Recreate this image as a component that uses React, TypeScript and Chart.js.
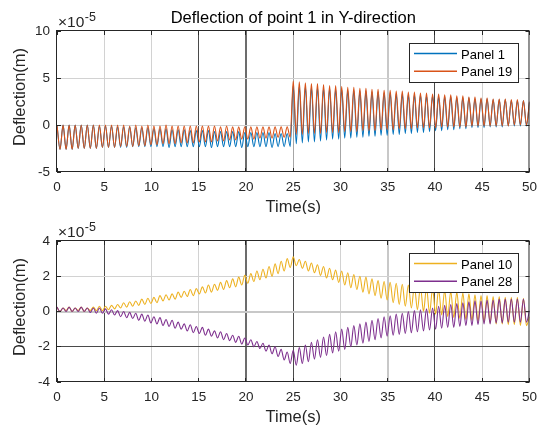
import React, { useEffect, useRef } from 'react';
import { Chart, registerables } from 'chart.js';

Chart.register(...registerables);

// ---------------- data (values in units of 1e-5 m) ----------------
const TIME_END = 50; // s
const CYCLES = 78; // oscillation cycles over the record
const X_TICKS = [0, 5, 10, 15, 20, 25, 30, 35, 40, 45, 50];
const TOP_Y_TICKS = [-5, 0, 5, 10];
const BOTTOM_Y_TICKS = [-4, -2, 0, 2, 4];

const TOP_TITLE = 'Deflection of point 1 in Y-direction';
const Y_LABEL = 'Deflection(m)';
const X_LABEL = 'Time(s)';
const TOP_LEGEND = ['Panel 1', 'Panel 19'];
const BOTTOM_LEGEND = ['Panel 10', 'Panel 28'];

// per-cycle maxima (last entry = value at t = 50 s) and minima
const PANEL1_PEAKS = [
  0.0, 0.0, 0.0, 0.0, 0.0, 0.0, 0.0, -0.1,
  -0.1, -0.1, -0.2, -0.2, -0.2, -0.3, -0.3, -0.3,
  -0.4, -0.4, -0.4, -0.5, -0.5, -0.5, -0.6, -0.6,
  -0.6, -0.6, -0.7, -0.7, -0.7, -0.7, -0.7, -0.8,
  -0.8, -0.8, -0.8, -0.8, -0.9, -0.9, -0.9,
  4.2, 4.1, 4.1, 4.0, 4.0, 3.9, 3.9, 3.8,
  3.8, 3.7, 3.7, 3.6, 3.6, 3.5, 3.5, 3.4,
  3.4, 3.3, 3.3, 3.2, 3.2, 3.2, 3.1, 3.1,
  3.0, 3.0, 3.0, 2.9, 2.9, 2.9, 2.8, 2.8,
  2.8, 2.7, 2.7, 2.7, 2.6, 2.6, 2.6,
  2.4,
];
const PANEL1_TROUGHS = [
  -2.6, -2.6, -2.6, -2.5, -2.5, -2.5, -2.5, -2.4,
  -2.4, -2.4, -2.4, -2.4, -2.3, -2.3, -2.3, -2.3,
  -2.3, -2.3, -2.4, -2.3, -2.3, -2.3, -2.3, -2.3,
  -2.3, -2.4, -2.3, -2.3, -2.3, -2.3, -2.4, -2.3,
  -2.3, -2.3, -2.3, -2.4, -2.3, -2.3, -2.3,
  -2.0, -1.9, -1.8, -1.8, -1.7, -1.6, -1.5, -1.5,
  -1.4, -1.4, -1.3, -1.3, -1.2, -1.2, -1.1, -1.1,
  -1.0, -1.0, -0.9, -0.9, -0.8, -0.8, -0.7, -0.6,
  -0.6, -0.5, -0.5, -0.4, -0.4, -0.3, -0.3, -0.3,
  -0.2, -0.2, -0.2, -0.1, -0.1, -0.1, -0.1,
];
const PANEL19_PEAKS = [
  0.0, 0.0, 0.0, 0.0, 0.0, 0.0, 0.0, 0.0,
  0.0, 0.0, 0.0, 0.0, -0.1, 0.0, -0.1, 0.0,
  -0.1, -0.1, 0.0, -0.1, -0.1, -0.1, -0.1, -0.1,
  -0.1, -0.1, -0.1, -0.2, -0.1, -0.2, -0.2, -0.2,
  -0.2, -0.2, -0.2, -0.2, -0.2, -0.2, -0.2,
  4.7, 4.6, 4.5, 4.4, 4.4, 4.3, 4.2, 4.2,
  4.1, 4.0, 4.0, 3.9, 3.9, 3.8, 3.8, 3.7,
  3.7, 3.6, 3.6, 3.5, 3.5, 3.4, 3.4, 3.3,
  3.3, 3.2, 3.2, 3.1, 3.1, 3.0, 3.0, 2.9,
  2.9, 2.8, 2.8, 2.8, 2.7, 2.7, 2.6,
  2.5,
];
const PANEL19_TROUGHS = [
  -2.6, -2.6, -2.6, -2.5, -2.5, -2.5, -2.5, -2.4,
  -2.4, -2.4, -2.3, -2.3, -2.3, -2.2, -2.2, -2.1,
  -2.1, -2.0, -2.0, -2.0, -1.9, -1.9, -1.9, -1.8,
  -1.8, -1.8, -1.7, -1.7, -1.6, -1.6, -1.5, -1.5,
  -1.5, -1.4, -1.4, -1.4, -1.3, -1.3, -1.3,
  -1.0, -1.0, -0.9, -0.9, -0.9, -0.8, -0.8, -0.8,
  -0.7, -0.7, -0.7, -0.6, -0.6, -0.6, -0.5, -0.5,
  -0.5, -0.4, -0.4, -0.4, -0.3, -0.3, -0.3, -0.3,
  -0.2, -0.2, -0.2, -0.2, -0.2, -0.1, -0.1, -0.1,
  -0.1, -0.1, -0.1, -0.1, 0.0, 0.0, 0.0,
];
const PANEL10_PEAKS = [
  0.25, 0.2, 0.25, 0.2, 0.25, 0.2, 0.25, 0.3,
  0.3, 0.35, 0.4, 0.5, 0.55, 0.6, 0.7, 0.75,
  0.8, 0.9, 0.95, 1.0, 1.1, 1.15, 1.25, 1.3,
  1.4, 1.5, 1.55, 1.65, 1.75, 1.85, 1.95, 2.05,
  2.15, 2.3, 2.4, 2.55, 2.7, 2.85, 3.0,
  3.1, 2.95, 2.85, 2.75, 2.65, 2.55, 2.45, 2.35,
  2.3, 2.2, 2.1, 2.0, 1.95, 1.85, 1.75, 1.7,
  1.65, 1.6, 1.55, 1.5, 1.45, 1.4, 1.35, 1.3,
  1.25, 1.2, 1.15, 1.1, 1.05, 1.0, 0.95, 0.9,
  0.9, 0.85, 0.85, 0.8, 0.8, 0.8, 0.75,
  -0.3,
];
const PANEL10_TROUGHS = [
  0.0, 0.05, 0.0, 0.05, 0.0, 0.05, 0.05, 0.05,
  0.1, 0.15, 0.2, 0.25, 0.3, 0.35, 0.4, 0.45,
  0.5, 0.6, 0.65, 0.7, 0.8, 0.85, 0.9, 1.0,
  1.05, 1.1, 1.2, 1.25, 1.35, 1.4, 1.5, 1.6,
  1.7, 1.8, 1.9, 2.0, 2.15, 2.3, 2.5,
  2.6, 2.45, 2.3, 2.2, 2.05, 1.9, 1.8, 1.65,
  1.5, 1.35, 1.25, 1.1, 1.0, 0.9, 0.75, 0.65,
  0.5, 0.4, 0.3, 0.2, 0.1, 0.0, -0.1, -0.15,
  -0.2, -0.3, -0.35, -0.4, -0.45, -0.5, -0.55, -0.6,
  -0.65, -0.7, -0.7, -0.75, -0.75, -0.8, -0.8,
];
const PANEL28_PEAKS = [
  0.25, 0.2, 0.25, 0.2, 0.25, 0.2, 0.2, 0.2,
  0.15, 0.1, 0.05, 0.0, -0.05, -0.1, -0.15, -0.2,
  -0.3, -0.35, -0.45, -0.5, -0.6, -0.7, -0.75, -0.85,
  -0.9, -1.0, -1.1, -1.15, -1.25, -1.35, -1.4, -1.5,
  -1.6, -1.7, -1.8, -1.9, -2.0, -2.15, -2.3,
  -2.2, -2.05, -1.9, -1.75, -1.6, -1.45, -1.3, -1.15,
  -1.0, -0.9, -0.8, -0.7, -0.6, -0.5, -0.4, -0.3,
  -0.25, -0.15, -0.1, 0.0, 0.05, 0.1, 0.15, 0.2,
  0.3, 0.35, 0.4, 0.45, 0.5, 0.55, 0.6, 0.6,
  0.65, 0.65, 0.7, 0.7, 0.7, 0.7, 0.7,
  0.05,
];
const PANEL28_TROUGHS = [
  0.0, 0.0, 0.0, 0.0, 0.0, -0.05, -0.1, -0.1,
  -0.15, -0.2, -0.3, -0.35, -0.4, -0.5, -0.55, -0.65,
  -0.7, -0.8, -0.85, -0.95, -1.0, -1.1, -1.2, -1.25,
  -1.35, -1.4, -1.5, -1.6, -1.65, -1.75, -1.85, -1.9,
  -2.0, -2.1, -2.25, -2.4, -2.55, -2.75, -2.95,
  -3.05, -2.95, -2.85, -2.7, -2.6, -2.5, -2.35, -2.25,
  -2.15, -2.0, -1.9, -1.8, -1.7, -1.6, -1.5, -1.4,
  -1.35, -1.3, -1.25, -1.2, -1.15, -1.1, -1.05, -1.0,
  -0.95, -0.9, -0.9, -0.85, -0.8, -0.8, -0.75, -0.7,
  -0.7, -0.65, -0.65, -0.6, -0.6, -0.6, -0.6,
];

// ---------------- styling ----------------
const FONT = '"Liberation Sans", Arial, Helvetica, sans-serif';
const AX = '#262626';
const C_BLUE = '#0072BD';
const C_ORANGE = '#D95319';
const C_YELLOW = '#EDB120';
const C_PURPLE = '#7E2F8E';

type GridStyle = [string, number];
const G_LIGHT: GridStyle = ['#d2d2d2', 1];
const G_MED: GridStyle = ['#a6a6a6', 1];
const G_DARK: GridStyle = ['#4a4a4a', 1];
const G_DARK2: GridStyle = ['#6c6c6c', 2];
const G_LIGHT2: GridStyle = ['#c8c8c8', 2];

const TOP_XGRID: Record<number, GridStyle> = {
  5: G_LIGHT, 10: G_LIGHT, 15: G_DARK, 20: G_DARK2, 25: G_MED,
  30: G_MED, 35: G_LIGHT2, 40: G_DARK, 45: G_LIGHT,
};
const TOP_YGRID: Record<number, GridStyle> = { 5: G_LIGHT, 0: G_LIGHT };
const BOT_XGRID: Record<number, GridStyle> = {
  5: G_DARK, 10: G_LIGHT, 15: G_LIGHT, 20: G_DARK2, 25: G_DARK,
  30: G_LIGHT, 35: G_LIGHT2, 40: G_DARK, 45: G_LIGHT,
};
const BOT_YGRID: Record<number, GridStyle> = { 2: G_LIGHT, 0: G_LIGHT2, [-2]: G_DARK };

function buildSeries(peaks: number[], troughs: number[]) {
  const period = TIME_END / CYCLES;
  const pts: { x: number; y: number }[] = [];
  for (let k = 0; k < troughs.length; k++) {
    pts.push({ x: k * period, y: peaks[k] });
    pts.push({ x: (k + 0.5) * period, y: troughs[k] });
  }
  pts.push({ x: TIME_END, y: peaks[troughs.length] });
  return pts;
}

function align(px: number, w: number) {
  return Math.round(px - w / 2) + w / 2;
}

interface PanelCfg {
  title?: string;
  yTicks: number[];
  xGrid: Record<number, GridStyle>;
  yGrid: Record<number, GridStyle>;
  left: number;
  right: number;
  top: number;
  bottom: number;
  legend: { labels: string[]; colors: string[]; x: number; y: number; w: number; h: number };
  series: { data: { x: number; y: number }[]; color: string; order: number }[];
  yLabelCenter: number;
  xLabelBaseline: number;
}

function makeDecor(cfg: PanelCfg) {
  return {
    id: 'decor',
    afterDraw(chart: any) {
      const ctx: CanvasRenderingContext2D = chart.ctx;
      const a = chart.chartArea;
      const xs = chart.scales.x;
      const ys = chart.scales.y;
      ctx.save();
      // axes box
      ctx.strokeStyle = AX;
      ctx.lineWidth = 1;
      ctx.strokeRect(a.left - 0.5, a.top - 0.5, a.right - a.left, a.bottom - a.top);
      // inward tick marks on all four sides
      const TL = 4;
      ctx.beginPath();
      X_TICKS.forEach((v) => {
        const px = align(xs.getPixelForValue(v), 1);
        ctx.moveTo(px, a.bottom);
        ctx.lineTo(px, a.bottom - TL);
        ctx.moveTo(px, a.top);
        ctx.lineTo(px, a.top + TL);
      });
      cfg.yTicks.forEach((v) => {
        const py = align(ys.getPixelForValue(v), 1);
        ctx.moveTo(a.left, py);
        ctx.lineTo(a.left + TL, py);
        ctx.moveTo(a.right, py);
        ctx.lineTo(a.right - TL, py);
      });
      ctx.stroke();

      const cx = (a.left + a.right) / 2;
      // title
      if (cfg.title) {
        ctx.fillStyle = '#000';
        ctx.font = `16.5px ${FONT}`;
        ctx.textAlign = 'center';
        ctx.textBaseline = 'alphabetic';
        ctx.fillText(cfg.title, cx, 23);
      }
      // exponent label
      ctx.fillStyle = AX;
      ctx.textAlign = 'left';
      ctx.textBaseline = 'alphabetic';
      ctx.font = `15.5px ${FONT}`;
      const base = '\u00d710';
      ctx.fillText(base, a.left + 1, a.top - 4.5);
      const bw = ctx.measureText(base).width;
      ctx.font = `12.5px ${FONT}`;
      ctx.fillText('-5', a.left + 1.5 + bw, a.top - 10);

      // axis labels
      ctx.font = `16.5px ${FONT}`;
      ctx.textAlign = 'center';
      ctx.fillText(X_LABEL, cx, cfg.xLabelBaseline);
      ctx.save();
      ctx.translate(20, cfg.yLabelCenter);
      ctx.rotate(-Math.PI / 2);
      ctx.textBaseline = 'middle';
      ctx.fillText(Y_LABEL, 0, 0);
      ctx.restore();

      // legend
      const L = cfg.legend;
      ctx.fillStyle = '#fff';
      ctx.fillRect(L.x, L.y, L.w, L.h);
      ctx.strokeStyle = AX;
      ctx.lineWidth = 1;
      ctx.strokeRect(L.x + 0.5, L.y + 0.5, L.w, L.h);
      L.labels.forEach((lab, i) => {
        const y = L.y + 10.5 + i * 17.7;
        ctx.strokeStyle = L.colors[i];
        ctx.lineWidth = 1.4;
        ctx.beginPath();
        ctx.moveTo(L.x + 5, y);
        ctx.lineTo(L.x + 48, y);
        ctx.stroke();
        ctx.fillStyle = '#000';
        ctx.font = `13px ${FONT}`;
        ctx.textAlign = 'left';
        ctx.textBaseline = 'middle';
        ctx.fillText(lab, L.x + 52, y + 1.5);
      });
      ctx.restore();
    },
  };
}

const CANVAS_W = 544;
const CANVAS_H = 214;

function Panel({ cfg }: { cfg: PanelCfg }) {
  const ref = useRef<HTMLCanvasElement | null>(null);
  useEffect(() => {
    if (!ref.current) return;
    const yMin = cfg.yTicks[0];
    const yMax = cfg.yTicks[cfg.yTicks.length - 1];
    const gridFor = (map: Record<number, GridStyle>, idx: 0 | 1) => (c: any) => {
      const v = c.tick ? c.tick.value : null;
      const s = v !== null && map[v] ? map[v] : null;
      if (!s) return idx === 0 ? 'rgba(0,0,0,0)' : 1;
      return s[idx];
    };
    const tickFont = { family: FONT, size: 13.5 };
    const chart = new Chart(ref.current, {
      type: 'line',
      data: {
        datasets: cfg.series.map((s) => ({
          data: s.data,
          borderColor: s.color,
          borderWidth: 1.1,
          pointRadius: 0,
          fill: false,
          tension: 0,
          cubicInterpolationMode: 'monotone' as const,
          order: s.order,
        })),
      },
      options: {
        responsive: false,
        maintainAspectRatio: false,
        devicePixelRatio: 1,
        animation: false,
        events: [],
        layout: { padding: { left: 0, bottom: 0, top: cfg.top, right: CANVAS_W - cfg.right } },
        plugins: { legend: { display: false }, tooltip: { enabled: false }, title: { display: false } },
        scales: {
          x: {
            type: 'linear',
            min: 0,
            max: TIME_END,
            afterFit: (s: any) => { s.height = CANVAS_H - cfg.bottom; },
            afterBuildTicks: (s: any) => { s.ticks = X_TICKS.map((v) => ({ value: v })); },
            grid: {
              drawTicks: false,
              color: gridFor(cfg.xGrid, 0),
              lineWidth: gridFor(cfg.xGrid, 1),
            },
            border: { display: false },
            ticks: {
              autoSkip: false,
              maxRotation: 0,
              padding: 7,
              color: AX,
              font: tickFont,
              callback: (v: any) => String(v),
            },
          },
          y: {
            type: 'linear',
            min: yMin,
            max: yMax,
            afterFit: (s: any) => { s.width = cfg.left; },
            afterBuildTicks: (s: any) => { s.ticks = cfg.yTicks.map((v) => ({ value: v })); },
            grid: {
              drawTicks: false,
              color: gridFor(cfg.yGrid, 0),
              lineWidth: gridFor(cfg.yGrid, 1),
            },
            border: { display: false },
            ticks: {
              padding: 7,
              color: AX,
              font: tickFont,
              callback: (v: any) => String(v),
            },
          },
        },
      },
      plugins: [makeDecor(cfg)],
    } as any);
    return () => chart.destroy();
  }, [cfg]);
  return (
    <canvas
      ref={ref}
      width={CANVAS_W}
      height={CANVAS_H}
      style={{ display: 'block', width: CANVAS_W, height: CANVAS_H }}
    />
  );
}

const TOP_CFG: PanelCfg = {
  title: TOP_TITLE,
  yTicks: TOP_Y_TICKS,
  xGrid: TOP_XGRID,
  yGrid: TOP_YGRID,
  left: 57,
  right: 532,
  top: 31,
  bottom: 172,
  legend: { labels: TOP_LEGEND, colors: [C_BLUE, C_ORANGE], x: 409, y: 43, w: 109, h: 39 },
  series: [
    { data: buildSeries(PANEL1_PEAKS, PANEL1_TROUGHS), color: C_BLUE, order: 1 },
    { data: buildSeries(PANEL19_PEAKS, PANEL19_TROUGHS), color: C_ORANGE, order: 0 },
  ],
  yLabelCenter: 97,
  xLabelBaseline: 212,
};

const BOTTOM_CFG: PanelCfg = {
  yTicks: BOTTOM_Y_TICKS,
  xGrid: BOT_XGRID,
  yGrid: BOT_YGRID,
  left: 57,
  right: 532,
  top: 27,
  bottom: 168,
  legend: { labels: BOTTOM_LEGEND, colors: [C_YELLOW, C_PURPLE], x: 409, y: 39, w: 109, h: 39 },
  series: [
    { data: buildSeries(PANEL10_PEAKS, PANEL10_TROUGHS), color: C_YELLOW, order: 1 },
    { data: buildSeries(PANEL28_PEAKS, PANEL28_TROUGHS), color: C_PURPLE, order: 0 },
  ],
  yLabelCenter: 93,
  xLabelBaseline: 208,
};

export default function App() {
  return (
    <div style={{ position: 'fixed', left: 0, top: 0, width: 544, height: 428, background: '#fff' }}>
      <Panel cfg={TOP_CFG} />
      <Panel cfg={BOTTOM_CFG} />
    </div>
  );
}
